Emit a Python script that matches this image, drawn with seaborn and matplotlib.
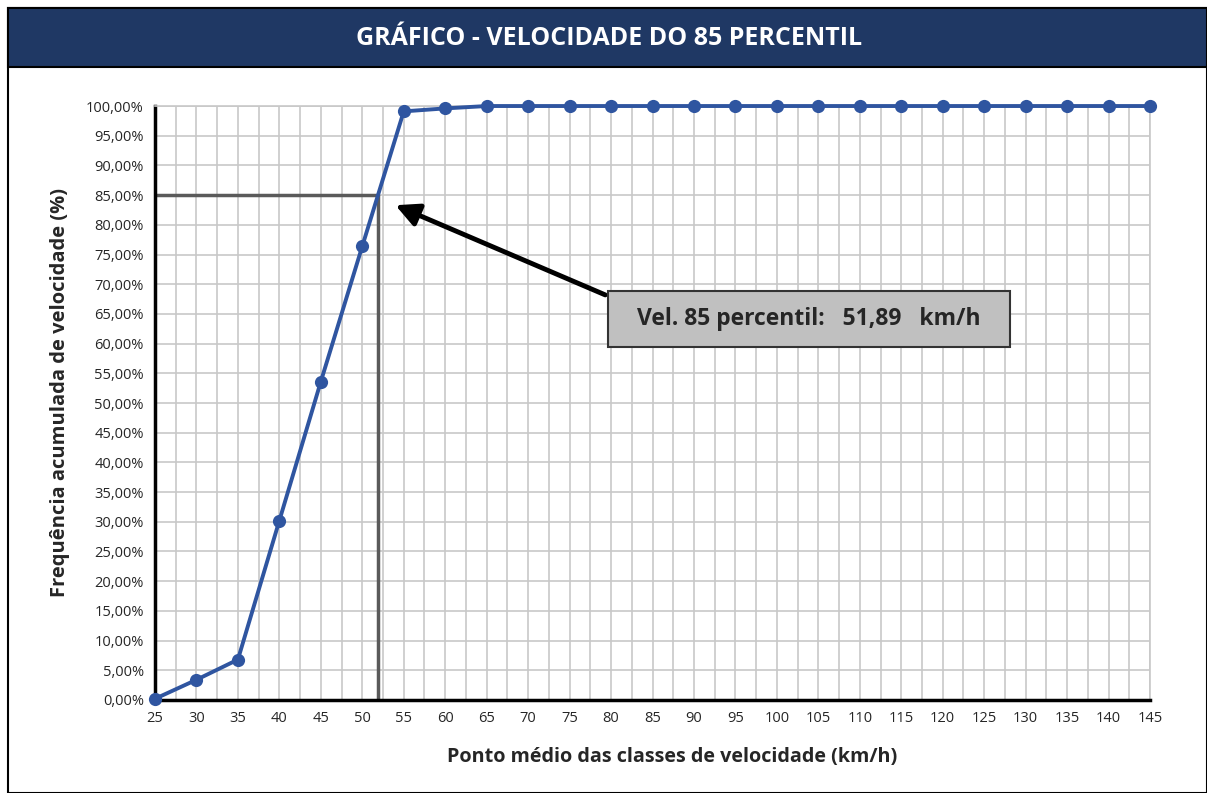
import numpy as np
import pandas as pd
import matplotlib.pyplot as plt
import matplotlib.patches as mpatches
from matplotlib.ticker import FuncFormatter, MultipleLocator
import seaborn as sns

# Data
velocidade = [25, 30, 35, 40, 45, 50, 55, 60, 65, 70, 75, 80, 85, 90,
              95, 100, 105, 110, 115, 120, 125, 130, 135, 140, 145]
freq_acum = [0.2, 3.4, 6.8, 30.2, 53.6, 76.4, 99.1, 99.6, 100, 100, 100, 100, 100, 100,
             100, 100, 100, 100, 100, 100, 100, 100, 100, 100, 100]
v85 = 51.89
p85 = 85

df = pd.DataFrame({"vel": velocidade, "freq": freq_acum})

sns.set_style("white")
plt.rcParams["font.family"] = ["Open Sans", "DejaVu Sans"]

fig = plt.figure(figsize=(12.07, 7.93), dpi=100)
ax = fig.add_axes([0.1284, 0.1173, 0.8244, 0.749])

# Title band
fig.patches.append(mpatches.Rectangle((0.007, 0.0), 0.993, 0.99, transform=fig.transFigure,
                                      facecolor="none", edgecolor="black", lw=1.5, zorder=0))
fig.patches.append(mpatches.Rectangle((0.007, 0.915), 0.993, 0.075, transform=fig.transFigure,
                                      facecolor="#1f3864", edgecolor="black", lw=1.5, zorder=1))
fig.text(0.505, 0.952, "GRÁFICO - VELOCIDADE DO 85 PERCENTIL", color="white",
         fontsize=18, fontweight="bold", ha="center", va="center")

# 85 percentile guide lines
ax.plot([25, v85], [p85, p85], color="#5a5a5a", lw=2.5, zorder=2)
ax.plot([v85, v85], [0, p85], color="#5a5a5a", lw=2.5, zorder=2)

sns.lineplot(data=df, x="vel", y="freq", ax=ax, color="#2f55a0", lw=2.8,
             marker="o", markersize=9.5, markeredgewidth=0, zorder=5, clip_on=False)

ax.set_xlim(25, 145)
ax.set_ylim(0, 100)
ax.xaxis.set_major_locator(MultipleLocator(5))
ax.xaxis.set_minor_locator(MultipleLocator(2.5))
ax.yaxis.set_major_locator(MultipleLocator(5))
ax.yaxis.set_major_formatter(FuncFormatter(lambda v, p: f"{v:.2f}%".replace(".", ",")))
ax.grid(which="both", axis="x", color="#c8c8c8", lw=1.2)
ax.grid(which="major", axis="y", color="#c8c8c8", lw=1.2)
ax.tick_params(axis="both", which="major", direction="out", length=5, width=2,
               color="black", labelsize=10.5, pad=3)
ax.tick_params(axis="x", which="minor", length=0)

for s in ["top", "right"]:
    ax.spines[s].set_color("#c8c8c8")
    ax.spines[s].set_linewidth(1.2)
for s in ["left", "bottom"]:
    ax.spines[s].set_color("black")
    ax.spines[s].set_linewidth(2.5)

ax.set_xlabel("Ponto médio das classes de velocidade (km/h)", fontsize=14.2,
              fontweight="bold")
ax.set_ylabel("Frequência acumulada de velocidade (%)", fontsize=14.5,
              fontweight="bold")
ax.xaxis.set_label_coords(0.52, -0.08)
ax.yaxis.set_label_coords(-0.085, 0.518)

# Annotation arrow and box
ax.annotate("", xy=(54, 83.3), xytext=(79.3, 68.2),
            arrowprops=dict(arrowstyle="-|>,head_length=1.4,head_width=0.7",
                            color="black", lw=3.5, shrinkA=0, shrinkB=0))
ax.add_patch(mpatches.Rectangle((79.6, 59.4), 48.5, 9.5, facecolor="#c0c0c0",
                                edgecolor="#333333", lw=1.5, zorder=6))
ax.text(103.9, 64.1, "Vel. 85 percentil:   51,89   km/h", fontsize=16.5, fontweight="bold",
        ha="center", va="center", zorder=7)

fig.savefig("out.png", dpi=100)
